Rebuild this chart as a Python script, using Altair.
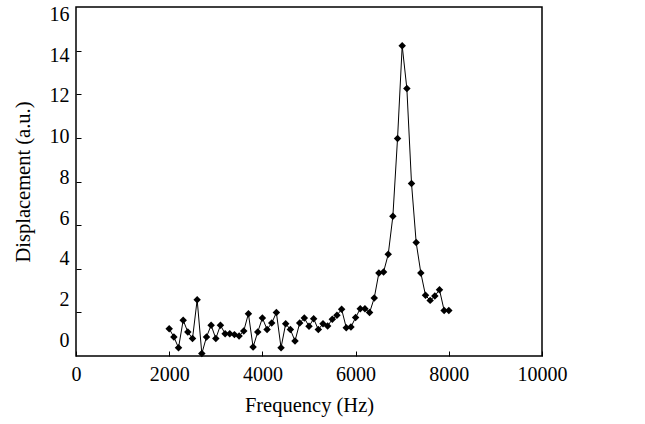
import altair as alt
import pandas as pd

freq = list(range(2000, 8001, 100))
disp = [1.25, 0.87, 0.38, 1.64, 1.10, 0.80, 2.58, 0.11, 0.87, 1.41,
        0.80, 1.41, 1.02, 1.02, 0.98, 0.92, 1.15, 1.94, 0.41, 1.10,
        1.74, 1.22, 1.51, 1.99, 0.38, 1.48, 1.21, 0.69, 1.51, 1.74,
        1.36, 1.71, 1.21, 1.48, 1.38, 1.68, 1.87, 2.14, 1.30, 1.33,
        1.76, 2.17, 2.17, 1.99, 2.66, 3.81, 3.85, 4.66, 6.41, 9.97,
        14.22, 12.26, 7.91, 5.20, 3.81, 2.78, 2.55, 2.75, 3.04, 2.09,
        2.09]

x_tick_values = [0, 2000, 4000, 6000, 8000, 10000]
y_tick_values = [2, 4, 6, 8, 10, 12, 14]
y_label_values = [0, 2, 4, 6, 8, 10, 12, 14, 16]

df = pd.DataFrame({"freq": freq, "disp": disp})

FONT = "Liberation Serif"

x_enc = alt.X(
    "freq:Q",
    scale=alt.Scale(domain=[0, 10000], nice=False, zero=False),
    axis=alt.Axis(
        values=x_tick_values, format="d", title="Frequency (Hz)", grid=False, domain=False,
        offset=-5, tickSize=5, tickColor="black", tickWidth=1,
        labelPadding=8, labelFont=FONT, labelFontSize=20, labelColor="black",
        titleFont=FONT, titleFontSize=20.5, titleFontWeight="normal",
        titleColor="black", titlePadding=11, labelFlush=False,
    ),
)

base = alt.Chart(df)

line = base.mark_line(color="black", strokeWidth=1).encode(
    x=x_enc,
    y=alt.Y(
        "disp:Q",
        scale=alt.Scale(domain=[0, 16], nice=False, zero=False),
        axis=alt.Axis(
            orient="left", values=y_tick_values, title=None, grid=False,
            domain=False, labels=False, offset=-5, tickSize=5,
            tickColor="black", tickWidth=1,
        ),
    ),
)

pts = base.mark_point(shape="diamond", filled=True, color="black", size=56, opacity=1).encode(
    x=x_enc,
    y=alt.Y("disp:Q", scale=alt.Scale(domain=[0, 16], nice=False, zero=False)),
)

main = alt.layer(line, pts)

labels_layer = base.mark_point(opacity=0).encode(
    x=x_enc,
    y=alt.Y(
        "disp:Q",
        scale=alt.Scale(domain=[-0.77, 16.36], nice=False, zero=False),
        axis=alt.Axis(
            orient="left", values=y_label_values, title="Displacement (a.u.)",
            grid=False, domain=False, ticks=False, tickSize=0, labelPadding=7,
            labelFont=FONT, labelFontSize=20, labelColor="black",
            titleFont=FONT, titleFontSize=20.5, titleFontWeight="normal",
            titleColor="black", titlePadding=16, labelFlush=False,
        ),
    ),
)

chart = alt.layer(main, labels_layer).resolve_scale(y="independent").properties(
    width=466,
    height=349,
    background="white",
    autosize=alt.AutoSizeParams(type="none"),
    padding={"left": 76, "top": 7, "right": 103, "bottom": 68},
).configure_view(stroke="#000000", strokeWidth=1.5)

chart.save("out.html", embed_options={"renderer": "svg", "actions": False})
